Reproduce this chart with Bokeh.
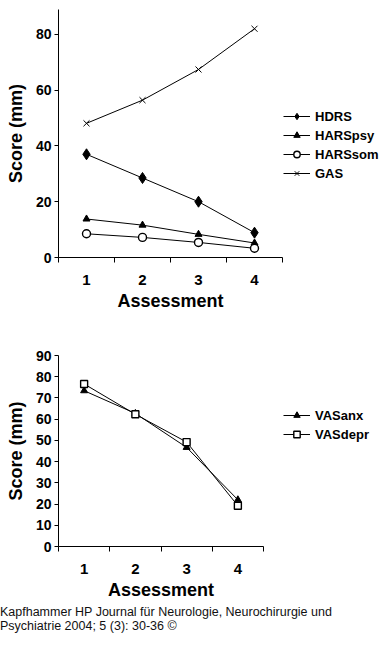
from bokeh.plotting import figure
from bokeh.layouts import column
from bokeh.models import Range1d, FixedTicker, Legend, LegendItem, Div, Title
from bokeh.embed import file_html
from bokeh.resources import INLINE

# ---- data ----
assessments = [1, 2, 3, 4]
hdrs = [37.0, 28.5, 20.0, 8.9]
harspsy = [13.8, 11.6, 8.3, 5.2]
harssom = [8.5, 7.2, 5.4, 3.3]
gas = [48.1, 56.4, 67.4, 82.0]
vasanx = [73.4, 62.7, 46.7, 22.0]
vasdepr = [76.6, 62.3, 49.2, 19.2]
top_yticks = [0, 20, 40, 60, 80]
bottom_yticks = [0, 10, 20, 30, 40, 50, 60, 70, 80, 90]
x_boundaries = [0.5, 1.5, 2.5, 3.5, 4.5]
caption_lines = ["Kapfhammer HP Journal für Neurologie, Neurochirurgie und",
                 "Psychiatrie 2004; 5 (3): 30-36 ©"]

FONT = "Liberation Sans"
W = 385
LEFT = 58


def make_fig(height, ymax, border_top, border_bottom, px_per_unit, yticks):
    # frame runs to the right edge so the legend can sit inside it;
    # the x axis itself is bounded to 0.5 .. 4.5
    xmax = 0.5 + (W - LEFT) / px_per_unit
    p = figure(width=W, height=height, output_backend="svg", toolbar_location=None,
               x_range=Range1d(0.5, xmax), y_range=Range1d(0, ymax),
               min_border_left=LEFT, min_border_right=0,
               min_border_top=border_top, min_border_bottom=border_bottom)
    p.grid.visible = False
    p.outline_line_color = None
    for ax in (p.xaxis, p.yaxis):
        ax.axis_line_color = "black"
        ax.axis_line_width = 1
        ax.major_tick_line_color = "black"
        ax.minor_tick_line_color = "black"
        ax.major_label_text_font = FONT
        ax.major_label_text_font_style = "bold"
        ax.major_label_text_color = "black"
        ax.axis_label_text_font = FONT
        ax.axis_label_text_font_style = "bold"
        ax.axis_label_text_color = "black"
        ax.axis_label_text_font_size = "18px"
        ax.major_tick_in = 0
        ax.minor_tick_in = 0
    p.xaxis.bounds = (0.5, 4.5)
    p.xaxis.ticker = FixedTicker(ticks=assessments, minor_ticks=x_boundaries)
    p.xaxis.major_tick_out = 0
    p.xaxis.minor_tick_out = 5
    p.xaxis.major_label_text_font_size = "15px"
    p.xaxis.major_label_standoff = 12
    p.yaxis.ticker = FixedTicker(ticks=yticks, minor_ticks=[])
    p.yaxis.major_tick_out = 4
    p.yaxis.minor_tick_out = 0
    p.yaxis.major_label_text_font_size = "14px"
    p.yaxis.major_label_standoff = 3
    p.yaxis.axis_label = "Score (mm)"
    p.yaxis.axis_label_standoff = 7
    xtitle = Title(text="Assessment", align="left", offset=(4 * px_per_unit - 106) / 2,
                   standoff=2, text_font=FONT, text_font_style="bold",
                   text_font_size="18px", text_color="black")
    p.add_layout(xtitle, "below")
    return p


def make_legend(items, vx, vy):
    return Legend(items=items, location=(vx, vy), orientation="vertical",
                  background_fill_alpha=0, border_line_color=None,
                  padding=0, margin=0, spacing=3, glyph_width=27, glyph_height=16,
                  label_height=16, label_standoff=5,
                  label_text_font=FONT, label_text_font_style="bold",
                  label_text_font_size="13px", label_text_color="black")


# ---- top chart ----
p1 = make_fig(315, 88.9, 9, 58, 56.0, top_yticks)
l_hdrs = p1.line(assessments, hdrs, line_color="black", line_width=1)
m_hdrs = p1.scatter(assessments, hdrs, marker="diamond", size=11,
                    fill_color="black", line_color="black")
l_psy = p1.line(assessments, harspsy, line_color="black", line_width=1)
m_psy = p1.scatter(assessments, harspsy, marker="triangle", size=7,
                   fill_color="black", line_color="black")
l_som = p1.line(assessments, harssom, line_color="black", line_width=1)
m_som = p1.scatter(assessments, harssom, marker="circle", size=8,
                   fill_color="white", line_color="black", line_width=1.4)
l_gas = p1.line(assessments, gas, line_color="black", line_width=1)
m_gas = p1.scatter(assessments, gas, marker="x", size=8.5, line_color="black", line_width=1)

leg1 = make_legend([
    LegendItem(label="HDRS", renderers=[l_hdrs, m_hdrs]),
    LegendItem(label="HARSpsy", renderers=[l_psy, m_psy]),
    LegendItem(label="HARSsom", renderers=[l_som, m_som]),
    LegendItem(label="GAS", renderers=[l_gas, m_gas]),
], 225, 76)
p1.add_layout(leg1, "center")

# ---- bottom chart ----
p2 = make_fig(290, 90, 40, 59, 51.25, bottom_yticks)
l_anx = p2.line(assessments, vasanx, line_color="black", line_width=1)
m_anx = p2.scatter(assessments, vasanx, marker="triangle", size=7,
                   fill_color="black", line_color="black")
l_dep = p2.line(assessments, vasdepr, line_color="black", line_width=1)
m_dep = p2.scatter(assessments, vasdepr, marker="square", size=7,
                   fill_color="white", line_color="black", line_width=1.4)

leg2 = make_legend([
    LegendItem(label="VASanx", renderers=[l_anx, m_anx]),
    LegendItem(label="VASdepr", renderers=[l_dep, m_dep]),
], 225, 104)
p2.add_layout(leg2, "center")

cap = Div(text="<br>".join(caption_lines), width=W, height=56, margin=(0, 0, 0, 0),
          styles={"font-family": FONT, "font-size": "12.5px", "line-height": "14px",
                  "color": "#111111"})

layout = column(p1, p2, cap, spacing=0)

open("out.html", "w").write(file_html(layout, INLINE))
